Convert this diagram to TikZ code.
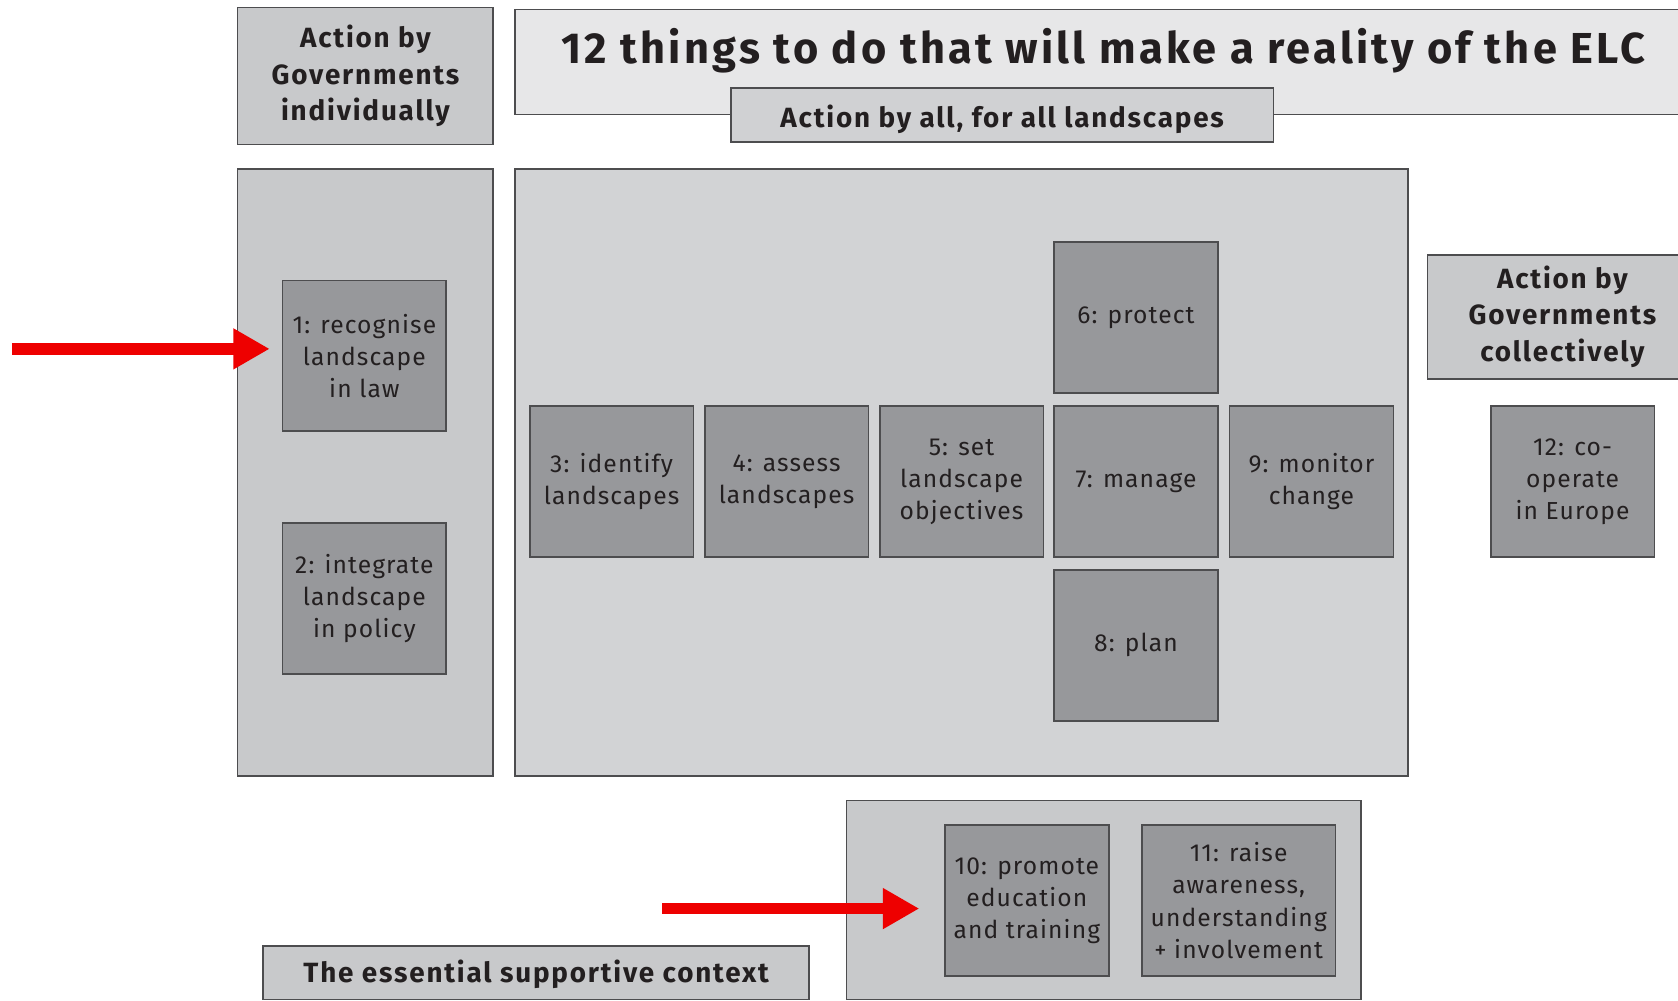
\documentclass[tikz,border=0pt]{standalone}
\usepackage{fontspec}
\setmainfont{Fira Sans}
\newfontfamily\stepfont{Fira Sans}[LetterSpace=4.5]
\newfontfamily\headfont{Fira Sans}[LetterSpace=6.5]
\newfontfamily\titlefont{Fira Sans}[LetterSpace=7.5]
\usetikzlibrary{arrows.meta}
\definecolor{panel}{HTML}{C8C9CB}
\definecolor{panelc}{HTML}{D2D3D5}
\definecolor{titlebg}{HTML}{E7E7E8}
\definecolor{allbg}{HTML}{D0D1D3}
\definecolor{stepc}{HTML}{97989B}
\definecolor{edge}{HTML}{4D4D4F}
\definecolor{ink}{HTML}{231F20}
\definecolor{arrowred}{HTML}{EE0000}
\tikzset{
  frame/.style={draw=edge, line width=1.6pt, rectangle, inner sep=0pt},
  panelbox/.style={frame, fill=panel},
  stepbox/.style={frame, fill=stepc, minimum width=153pt, minimum height=141pt, align=center, text=ink, font=\stepfont\fontsize{23}{30}\selectfont},
  headbox/.style={frame, fill=panel, align=center, text=ink, font=\headfont\fontsize{26}{34}\selectfont\bfseries},
  redarrow/.style={draw=arrowred, line width=11pt, -{Triangle[length=34pt,width=36pt]}}
}
\begin{document}
\begin{tikzpicture}[x=1pt,y=-1pt]
\useasboundingbox (0,0) rectangle (1568,935);
\clip (0,0) rectangle (1568,935);
\fill[white] (0,0) rectangle (1568,935);
% headers
\node[headbox, minimum width=239pt, minimum height=128pt] (hind) at (341.5,71) {Action by\\Governments\\individually};
\node[frame, fill=titlebg, minimum width=1100pt, minimum height=98pt] (title) at (1031,58) {};
\node[text=ink, font=\titlefont\fontsize{40.5}{48}\selectfont\bfseries] (titletext) at (1031,47) {12 things to do that will make a reality of the ELC};
\node[headbox, fill=allbg, minimum width=507pt, minimum height=51pt, text height=24pt, text depth=0pt] (hall) at (936.5,107.5) {Action by all, for all landscapes};
\node[headbox, minimum width=252pt, minimum height=116pt] (hcol) at (1460,296) {Action by\\Governments\\collectively};
% panels
\node[panelbox, minimum width=239pt, minimum height=567pt] (pleft) at (341.5,441.5) {};
\node[panelbox, fill=panelc, minimum width=835pt, minimum height=567pt] (pmid) at (898.5,441.5) {};
\node[panelbox, minimum width=481pt, minimum height=186pt] (pbot) at (1031.5,841) {};
\node[headbox, minimum width=510pt, minimum height=50pt, text height=18pt, text depth=0pt] (hctx) at (501,909) {The essential supportive context};
% steps
\node[stepbox] (b1) at (340.5,332.5) {1: recognise\\landscape\\in law};
\node[stepbox] (b2) at (340.5,559.5) {2: integrate\\landscape\\in policy};
\node[stepbox] (b3) at (571.5,450) {3: identify\\landscapes};
\node[stepbox] (b4) at (735,450) {4: assess\\landscapes};
\node[stepbox] (b5) at (898.5,450) {5: set\\landscape\\objectives};
\node[stepbox] (b6) at (1061.5,296.5) {6: protect};
\node[stepbox] (b7) at (1061.5,450) {7: manage};
\node[stepbox] (b8) at (1061.5,603) {8: plan};
\node[stepbox] (b9) at (1225.5,450) {9: monitor\\change};
\node[stepbox] (b10) at (959.5,841.5) {10: promote\\education\\and training};
\node[stepbox, minimum width=181pt] (b11) at (1157.5,841.5) {11: raise\\awareness,\\understanding\\+ involvement};
\node[stepbox] (b12) at (1469.5,450) {12: co-\\operate\\in Europe};
% arrows
\coordinate (a1s) at (11,326);
\coordinate (a1e) at (252,326);
\coordinate (a2s) at (619,849);
\coordinate (a2e) at (859,849);
\draw[redarrow] (a1s) -- (a1e);
\draw[redarrow] (a2s) -- (a2e);
\end{tikzpicture}
\end{document}
